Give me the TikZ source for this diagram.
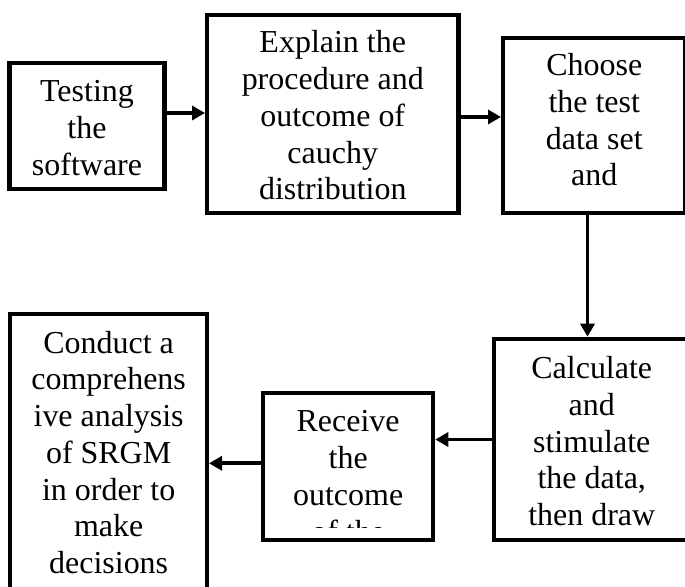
\documentclass[tikz,border=0pt]{standalone}
\usepackage{fontspec}
\setmainfont{Liberation Serif}
\usetikzlibrary{arrows.meta}
\tikzset{
  fcbox/.style={draw, line width=2.3pt, inner sep=0pt},
  fctext/.style={anchor=base, align=center, inner sep=0pt, font=\fontsize{18.2}{20.9}\selectfont},
  fcarr/.style={-{Triangle[length=0.26cm,width=0.28cm]}, line width=2.2pt}
}
\begin{document}
\begin{tikzpicture}[x=0.02cm, y=-0.02cm]
  \clip (0,0) rectangle (685,587);
  % boxes
  \node[fcbox, minimum width=3.1cm, minimum height=2.514cm] (test) at (87,125.85) {};
  \node[fcbox, minimum width=5.03cm, minimum height=3.966cm] (explain) at (332.75,113.85) {};
  \node[fcbox, minimum width=3.65cm, minimum height=3.5cm] (choose) at (594.25,125.5) {};
  \node[fcbox, minimum width=3.93cm, minimum height=4.026cm] (calc) at (591.75,439.35) {};
  \node[fcbox, minimum width=3.406cm, minimum height=2.946cm] (receive) at (348.15,466.65) {};
  \node[fcbox, minimum width=3.934cm, minimum height=6.12cm] (conduct) at (108.65,467) {};
  % texts (base = last line)
  \node[fctext] (testtxt) at (87,175.4) {Testing\\the\\software};
  \node[fctext] (explaintxt) at (332.75,199.8) {Explain the\\procedure and\\outcome of\\cauchy\\distribution};
  \node[fctext] (choosetxt) at (594.25,186) {Choose\\the test\\data set\\and};
  \node[fctext] (calctxt) at (591.75,525.5) {Calculate\\and\\stimulate\\the data,\\then draw};
  \begin{scope}
    \clip (receive.north west) rectangle (433,527);
    \node[fctext] (receivetxt) at (348.15,542) {Receive\\the\\outcome\\of the};
  \end{scope}
  \node[fctext] (conducttxt) at (108.65,573.5) {Conduct a\\comprehens\\ive analysis\\of SRGM\\in order to\\make\\decisions};
  % arrows
  \draw[fcarr] (test.east |- 0,113) -- (explain.west |- 0,113);
  \draw[fcarr] (explain.east |- 0,117) -- (choose.west |- 0,117);
  \draw[fcarr] (587.5,0 |- choose.south) -- (587.5,0 |- calc.north);
  \draw[fcarr] (calc.west |- 0,439.5) -- (receive.east |- 0,439.5);
  \draw[fcarr] (receive.west |- 0,463.3) -- (conduct.east |- 0,463.3);
\end{tikzpicture}
\end{document}
